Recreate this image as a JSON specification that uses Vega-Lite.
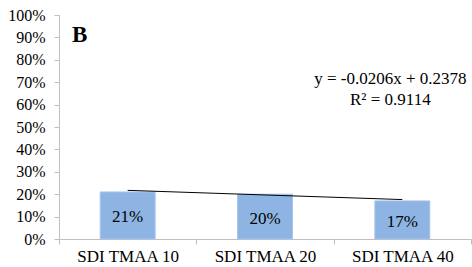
{
  "$schema": "https://vega.github.io/schema/vega-lite/v6.json",
  "width": 412,
  "height": 224,
  "autosize": {"type": "none"},
  "padding": {"left": 59, "top": 15, "right": 1, "bottom": 28},
  "background": "white",
  "config": {
    "view": {"stroke": null},
    "font": "Liberation Serif",
    "axisY": {"tickCount": 10, "format": ".0%", "grid": false, "labelOverlap": false,
      "domainColor": "#BFBFBF", "tickColor": "#BFBFBF", "tickSize": 5, "labelPadding": 9,
      "labelFont": "Liberation Serif", "labelFontSize": 16, "labelColor": "#000000"}
  },
  "data": {"values": [
    {"cat": "SDI TMAA 10", "v": 0.21, "trend": 0.2172},
    {"cat": "SDI TMAA 20", "v": 0.20, "trend": 0.1966},
    {"cat": "SDI TMAA 40", "v": 0.17, "trend": 0.1760}
  ]},
  "transform": [{"calculate": "datum.v/2", "as": "mid"}],
  "encoding": {
    "x": {"field": "cat", "type": "nominal", "sort": null, "title": null,
      "scale": {"paddingInner": 0, "paddingOuter": 0},
      "axis": {"orient": "bottom", "labelAngle": 0, "tickBand": "extent", "tickColor": "#BFBFBF", "tickSize": 5,
        "domainColor": "#BFBFBF", "domainWidth": 1,
        "labelFont": "Liberation Serif", "labelFontSize": 17, "labelColor": "#000000", "labelPadding": 4, "labelOverlap": false}}
  },
  "layer": [
    {
      "mark": {"type": "bar", "color": "#8DB4E2", "stroke": "#A7C5EA", "strokeWidth": 1, "width": {"band": 0.4}},
      "encoding": {
        "y": {"field": "v", "type": "quantitative", "title": null, "scale": {"domain": [0, 1]}}
      }
    },
    {
      "mark": {"type": "line", "color": "#000000", "strokeWidth": 1},
      "encoding": {
        "y": {"field": "trend", "type": "quantitative", "title": null}
      }
    },
    {
      "mark": {"type": "text", "fontSize": 17, "font": "Liberation Serif", "baseline": "middle", "dy": 2, "color": "#000000"},
      "encoding": {
        "y": {"field": "mid", "type": "quantitative", "title": null},
        "text": {"field": "v", "type": "quantitative", "format": ".0%"}
      }
    },
    {
      "data": {"values": [{"eq": "y = -0.0206x + 0.2378", "r2": "R² = 0.9114", "panel": "B"}]},
      "layer": [
        {
          "mark": {"type": "text", "fontSize": 17, "font": "Liberation Serif", "baseline": "middle", "dx": -12, "color": "#000000"},
          "encoding": {"x": {"datum": "SDI TMAA 40"}, "y": {"datum": 0.715, "title": null}, "text": {"field": "eq"}}
        },
        {
          "mark": {"type": "text", "fontSize": 17, "font": "Liberation Serif", "baseline": "middle", "dx": -12, "color": "#000000"},
          "encoding": {"x": {"datum": "SDI TMAA 40"}, "y": {"datum": 0.62, "title": null}, "text": {"field": "r2"}}
        },
        {
          "mark": {"type": "text", "fontSize": 23, "fontWeight": "bold", "font": "Liberation Serif", "baseline": "middle", "dx": -48, "color": "#000000"},
          "encoding": {"x": {"datum": "SDI TMAA 10"}, "y": {"datum": 0.911, "title": null}, "text": {"field": "panel"}}
        }
      ]
    }
  ]
}
